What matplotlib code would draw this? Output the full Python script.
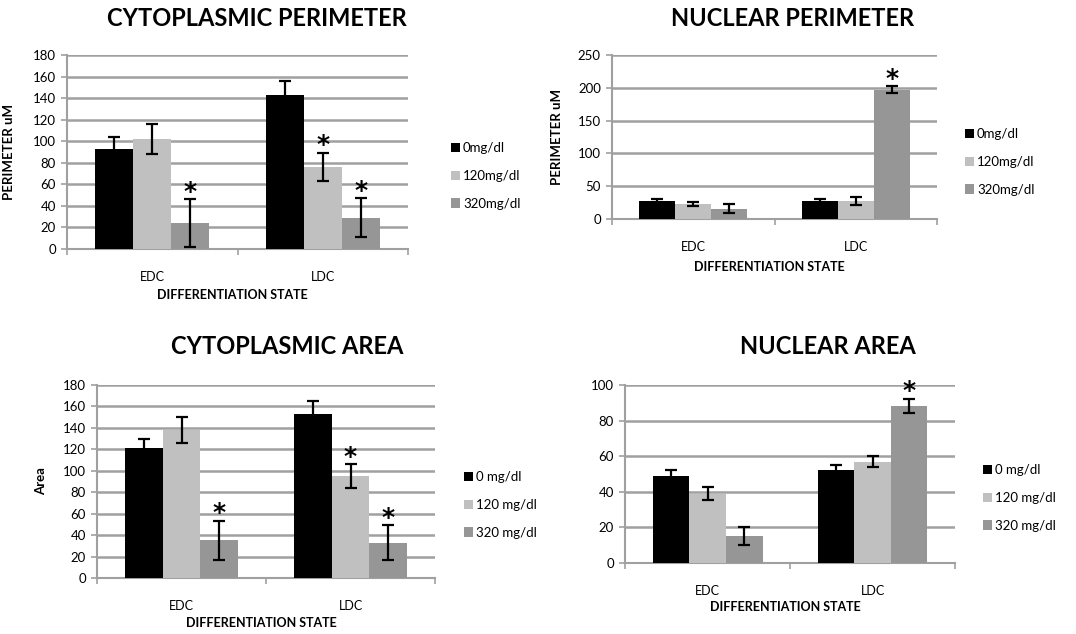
import numpy as np
import matplotlib
matplotlib.use("Agg")
import matplotlib.pyplot as plt

plt.rcParams['font.family'] = ['Lato', 'DejaVu Sans']

categories = ['EDC', 'LDC']
colors = ['#000000', '#C0C0C0', '#969696']

# cytoplasmic perimeter
cp_labels = ['0mg/dl', '120mg/dl', '320mg/dl']
cp_vals = [[93, 143], [102, 76], [24, 29]]
cp_err = [[11, 13], [14, 13], [22, 18]]
cp_sig = [[False, False], [False, True], [True, True]]

# nuclear perimeter
np_labels = ['0mg/dl', '120mg/dl', '320mg/dl']
np_vals = [[27, 27], [23, 28], [16, 197]]
np_err = [[4, 4], [3, 6], [7, 5]]
np_sig = [[False, False], [False, False], [False, True]]

# cytoplasmic area
ca_labels = ['0 mg/dl', '120 mg/dl', '320 mg/dl']
ca_vals = [[121, 153], [138, 95], [35, 33]]
ca_err = [[9, 12], [12.5, 11], [18.5, 16]]
ca_sig = [[False, False], [False, True], [True, True]]

# nuclear area
na_labels = ['0 mg/dl', '120 mg/dl', '320 mg/dl']
na_vals = [[49, 52], [39, 57], [15, 88]]
na_err = [[3, 3], [3.5, 3], [5, 4]]
na_sig = [[False, False], [False, False], [False, True]]

W, H = 1076, 634
fig = plt.figure(figsize=(W / 100, H / 100), dpi=100)


def box(l, t, r, b):
    return [l / W, 1 - b / H, (r - l) / W, (b - t) / H]


def panel(rect, title, title_xy, vals, errs, sig, labels, ymax, ystep,
          ylabel, ylabel_x, xlabel_y, legend_xy):
    ax = fig.add_axes(box(*rect))
    x = np.arange(len(categories))
    w = 1 / 4.5
    for i in range(3):
        pos = x + (i - 1) * w
        ax.bar(pos, vals[i], w, color=colors[i], label=labels[i], zorder=3)
        ax.errorbar(pos, vals[i], yerr=errs[i], fmt='none', ecolor='black',
                    elinewidth=1.6, capsize=4, capthick=1.6, zorder=4)
        for j in range(len(categories)):
            if sig[i][j]:
                ax.annotate('*', (pos[j], vals[i][j] + errs[i][j]),
                            xytext=(0, -3), textcoords='offset points',
                            ha='center', va='bottom', fontsize=18,
                            fontweight='bold', family='DejaVu Sans')
    ax.set_xlim(-0.5, 1.5)
    ax.set_ylim(0, ymax)
    ax.set_yticks(np.arange(0, ymax + 1, ystep))
    ax.set_xticks(x)
    ax.set_xticklabels(categories)
    ax.set_xticks([-0.5, 0.5, 1.5], minor=True)
    ax.tick_params(axis='x', which='major', length=0, pad=16, labelsize=9)
    ax.tick_params(axis='x', which='minor', length=4, color='#A0A0A0', width=1.2)
    ax.tick_params(axis='y', length=4, color='#A0A0A0', width=1.2, pad=4,
                   labelsize=9.5)
    ax.yaxis.grid(True, color='#A0A0A0', linewidth=1.8, zorder=0)
    for s in ['top', 'right']:
        ax.spines[s].set_visible(False)
    for s in ['left', 'bottom']:
        ax.spines[s].set_color('#A0A0A0')
        ax.spines[s].set_linewidth(1.5)
    if ylabel:
        ax.set_ylabel(ylabel, fontsize=9.5, fontweight='bold')
        ax.yaxis.set_label_coords((ylabel_x - rect[0]) / (rect[2] - rect[0]), 0.5)
    fig.text(((rect[0] + rect[2]) / 2 - 5) / W, 1 - xlabel_y / H,
             'DIFFERENTIATION STATE', ha='center', va='center',
             fontsize=9, fontweight='bold')
    fig.text(title_xy[0] / W, 1 - title_xy[1] / H, title, ha='center',
             va='center', fontsize=17, fontweight='bold')
    fig.legend(*ax.get_legend_handles_labels(), loc='upper left',
               bbox_to_anchor=(legend_xy[0] / W, 1 - legend_xy[1] / H),
               frameon=False, fontsize=9.5, handlelength=0.7,
               handleheight=0.7, handletextpad=0.2, labelspacing=1.2,
               borderpad=0, borderaxespad=0)
    return ax


panel((67, 55, 408, 249), 'CYTOPLASMIC PERIMETER', (257, 18),
      cp_vals, cp_err, cp_sig, cp_labels, 180, 20,
      'PERIMETER uM', 15, 295, (451, 142))
panel((612, 55, 937, 219), 'NUCLEAR PERIMETER', (793, 18),
      np_vals, np_err, np_sig, np_labels, 250, 50,
      'PERIMETER uM', 563, 267, (965, 128))
panel((97, 385, 435, 578), 'CYTOPLASMIC AREA', (287, 347),
      ca_vals, ca_err, ca_sig, ca_labels, 180, 20,
      'Area', 47, 623, (464, 471))
panel((625, 385, 955, 563), 'NUCLEAR AREA', (828, 347),
      na_vals, na_err, na_sig, na_labels, 100, 20,
      None, None, 607, (983, 464))

fig.savefig('out.png', dpi=100, facecolor='white')
